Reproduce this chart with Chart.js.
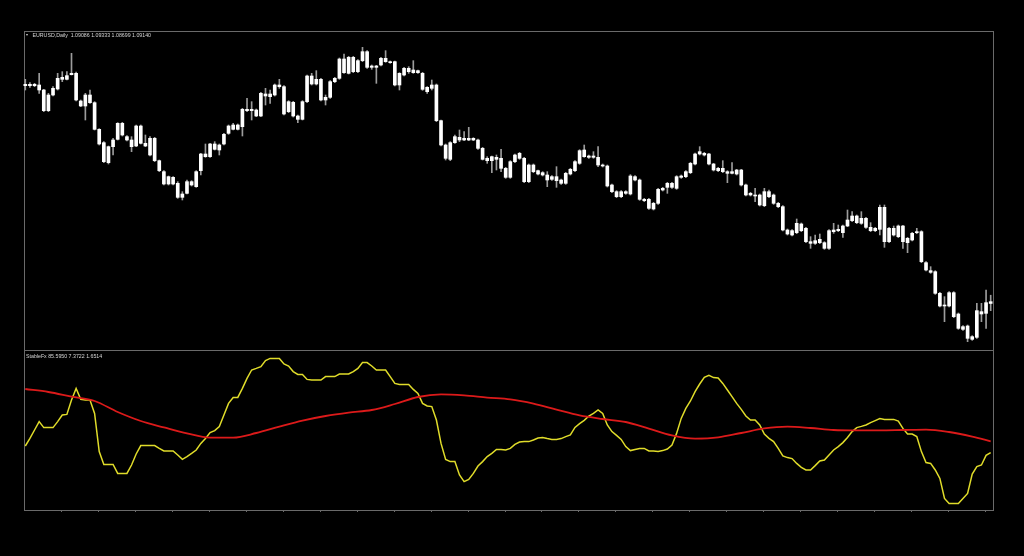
<!DOCTYPE html>
<html>
<head>
<meta charset="utf-8">
<script src="https://cdn.jsdelivr.net/npm/chart.js@4.4.0/dist/chart.umd.min.js"></script>
<style>
  html, body { margin: 0; padding: 0; background: #000; }
  #wrap { position: relative; width: 1024px; height: 556px; background: #000; overflow: hidden; }
  .frame { position: absolute; left: 24px; top: 31px; width: 970px; height: 480px; border: 1px solid #6a6a6a; box-sizing: border-box; }
  .sep { position: absolute; left: 24px; top: 350px; width: 970px; height: 1px; background: #6a6a6a; }
  canvas { position: absolute; }
  #priceChart { left: 23px; top: 32px; }
  #fxChart { left: 23px; top: 351px; }
  .lbl { position: absolute; font-family: "Liberation Sans", Arial, sans-serif; font-size: 5.25px; line-height: 6px; color: #d6d6d6; white-space: pre; }
  .tri { position: absolute; left: 26px; top: 34px; width: 0; height: 0; border-left: 1.5px solid transparent; border-right: 1.5px solid transparent; border-top: 2px solid #d6d6d6; }
</style>
</head>
<body>
<div id="wrap">
  <div class="frame"></div>
  <div class="sep"></div>
  <canvas id="priceChart" width="970" height="318"></canvas>
  <canvas id="fxChart" width="970" height="163"></canvas>
  <div class="tri"></div>
  <div class="lbl" style="left:32.5px; top:32px;">EURUSD,Daily  1.09086 1.09333 1.08699 1.09140</div>
  <div class="lbl" style="left:26px; top:352.5px;">StableFx 85.5950 7.3722 1.6514</div>
</div>
<script>
// EURUSD daily candles
const opens = [
  1.1566,1.1562,1.1566,1.1564,1.1549,1.1487,1.1534,1.1552,1.1581,1.1581,
  1.1595,1.1599,1.1516,1.1501,1.1534,1.1511,1.1431,1.1391,1.1331,1.1379,
  1.1401,1.1449,1.1409,1.1399,1.1381,1.1441,1.1389,1.1354,1.1404,1.1337,
  1.1304,1.1267,1.1287,1.1269,1.1227,1.1239,1.1274,1.1259,1.1307,1.1357,
  1.1349,1.1387,1.1369,1.1387,1.1419,1.1444,1.1431,1.1439,1.1491,1.1487,
  1.1489,1.1471,1.1537,1.1529,1.1534,1.1564,1.1559,1.1484,1.1512,1.1471,
  1.1461,1.1514,1.1591,1.1567,1.1581,1.1519,1.1527,1.1574,1.1584,1.1642,
  1.1599,1.1647,1.1604,1.1637,1.1664,1.1617,1.1621,1.1624,1.1644,1.1634,
  1.1634,1.1564,1.1594,1.1614,1.1601,1.1607,1.1599,1.1557,1.1554,1.1564,
  1.1457,1.1384,1.1341,1.1391,1.1407,1.1399,1.1404,1.1399,1.1399,1.1374,
  1.1344,1.1337,1.1347,1.1344,1.1314,1.1287,1.1334,1.1359,1.1344,1.1274,
  1.1324,1.1307,1.1301,1.1294,1.1281,1.1289,1.1279,1.1269,1.1297,1.1307,
  1.1329,1.1369,1.1351,1.1347,1.1347,1.1324,1.1321,1.1264,1.1244,1.1229,
  1.1244,1.1237,1.1289,1.1279,1.1221,1.1221,1.1192,1.1209,1.1249,1.1257,
  1.1269,1.1254,1.1287,1.1289,1.1301,1.1327,1.1357,1.1359,1.1357,1.1327,
  1.1314,1.1304,1.1304,1.1299,1.1297,1.1309,1.1264,1.1234,1.1234,1.1234,
  1.1202,1.1244,1.1234,1.1209,1.1199,1.1129,1.1114,1.1121,1.1147,1.1134,
  1.1094,1.1089,1.1101,1.1091,1.1074,1.1129,1.1127,1.1121,1.1141,1.1157,
  1.1171,1.1149,1.1164,1.1137,1.1127,1.1131,1.1197,1.1094,1.1134,1.1109,
  1.1141,1.1104,1.1099,1.1121,1.1124,1.1031,1.1007,1.1004,1.0939,1.0901,
  1.0901,1.0941,1.0877,1.0839,1.0841,1.0809,1.0807,1.0884,1.0879,1.09086
];
const highs = [
  1.1581,1.1571,1.1569,1.1599,1.1551,1.1539,1.1559,1.1599,1.1604,1.1604,
  1.1659,1.1603,1.1519,1.1539,1.1549,1.1514,1.1433,1.1394,1.1381,1.1404,
  1.1451,1.1452,1.1412,1.1409,1.1444,1.1444,1.1414,1.1409,1.1407,1.1339,
  1.1307,1.1291,1.1289,1.1274,1.1244,1.1279,1.1277,1.1307,1.1359,1.1387,
  1.1389,1.1394,1.1387,1.1419,1.1444,1.1449,1.1447,1.1494,1.1524,1.1514,
  1.1492,1.1542,1.1554,1.1549,1.1567,1.1581,1.1562,1.1517,1.1515,1.1474,
  1.1517,1.1594,1.1599,1.1607,1.1584,1.1534,1.1577,1.1587,1.1645,1.1657,
  1.1650,1.1650,1.1640,1.1677,1.1667,1.1624,1.1623,1.1647,1.1667,1.1636,
  1.1636,1.1601,1.1617,1.1619,1.1637,1.1609,1.1602,1.1559,1.1579,1.1567,
  1.1459,1.1387,1.1394,1.1414,1.1429,1.1424,1.1437,1.1406,1.1402,1.1377,
  1.1349,1.1351,1.1354,1.1371,1.1317,1.1337,1.1357,1.1362,1.1347,1.1327,
  1.1327,1.1309,1.1304,1.1304,1.1292,1.1319,1.1282,1.1302,1.1314,1.1337,
  1.1370,1.1384,1.1354,1.1364,1.1379,1.1327,1.1324,1.1267,1.1247,1.1247,
  1.1247,1.1295,1.1292,1.1282,1.1224,1.1224,1.1212,1.1254,1.1257,1.1272,
  1.1272,1.1292,1.1294,1.1307,1.1332,1.1360,1.1379,1.1362,1.1359,1.1329,
  1.1317,1.1337,1.1307,1.1331,1.1311,1.1311,1.1267,1.1242,1.1254,1.1237,
  1.1254,1.1249,1.1237,1.1212,1.1202,1.1132,1.1130,1.1162,1.1150,1.1137,
  1.1109,1.1114,1.1117,1.1094,1.1130,1.1149,1.1144,1.1144,1.1189,1.1184,
  1.1174,1.1184,1.1167,1.1151,1.1137,1.1204,1.1204,1.1137,1.1141,1.1144,
  1.1143,1.1107,1.1122,1.1134,1.1127,1.1034,1.1019,1.1007,1.0942,1.0929,
  1.0944,1.0944,1.0880,1.0842,1.0844,1.0812,1.0909,1.0909,1.0949,1.09333
];
const lows = [
  1.1549,1.1557,1.1559,1.1539,1.1484,1.1484,1.1531,1.1549,1.1574,1.1579,
  1.1594,1.1516,1.1499,1.1459,1.1509,1.1429,1.1384,1.1331,1.1327,1.1354,
  1.1399,1.1411,1.1396,1.1364,1.1379,1.1387,1.1379,1.1351,1.1334,1.1304,
  1.1264,1.1264,1.1264,1.1224,1.1219,1.1237,1.1261,1.1257,1.1294,1.1347,
  1.1347,1.1369,1.1354,1.1384,1.1416,1.1429,1.1429,1.1411,1.1484,1.1459,
  1.1469,1.1469,1.1504,1.1509,1.1531,1.1554,1.1474,1.1481,1.1468,1.1451,
  1.1459,1.1511,1.1564,1.1564,1.1516,1.1504,1.1524,1.1571,1.1581,1.1599,
  1.1597,1.1601,1.1601,1.1634,1.1614,1.1611,1.1569,1.1621,1.1632,1.1629,
  1.1561,1.1549,1.1591,1.1599,1.1599,1.1599,1.1548,1.1539,1.1549,1.1454,
  1.1381,1.1339,1.1337,1.1389,1.1394,1.1397,1.1397,1.1397,1.1371,1.1339,
  1.1329,1.1301,1.1309,1.1304,1.1284,1.1284,1.1331,1.1341,1.1271,1.1271,
  1.1301,1.1294,1.1291,1.1259,1.1278,1.1257,1.1266,1.1266,1.1294,1.1304,
  1.1326,1.1347,1.1344,1.1344,1.1319,1.1318,1.1258,1.1241,1.1226,1.1226,
  1.1236,1.1234,1.1276,1.1218,1.1214,1.1191,1.1189,1.1206,1.1246,1.1239,
  1.1254,1.1251,1.1284,1.1286,1.1298,1.1324,1.1354,1.1351,1.1324,1.1306,
  1.1304,1.1301,1.1271,1.1297,1.1294,1.1261,1.1231,1.1231,1.1214,1.1201,
  1.1199,1.1226,1.1206,1.1196,1.1126,1.1114,1.1111,1.1118,1.1124,1.1091,
  1.1074,1.1086,1.1088,1.1071,1.1071,1.1119,1.1124,1.1107,1.1139,1.1154,
  1.1148,1.1146,1.1134,1.1124,1.1124,1.1114,1.1077,1.1091,1.1111,1.1106,
  1.1074,1.1061,1.1096,1.1118,1.1031,1.1006,1.0999,1.0936,1.0898,1.0854,
  1.0898,1.0866,1.0831,1.0828,1.0794,1.0798,1.0804,1.0854,1.0834,1.0887
];
const closes = [
  1.1562,1.1566,1.1562,1.1549,1.1487,1.1534,1.1554,1.1584,1.1587,1.1592,
  1.1599,1.1519,1.1501,1.1534,1.1511,1.1431,1.1387,1.1334,1.1379,1.1399,
  1.1449,1.1414,1.1399,1.1379,1.1441,1.1389,1.1381,1.1404,1.1337,1.1307,
  1.1267,1.1289,1.1267,1.1227,1.1237,1.1274,1.1264,1.1304,1.1357,1.1349,
  1.1387,1.1371,1.1384,1.1416,1.1441,1.1431,1.1444,1.1491,1.1487,1.1491,
  1.1471,1.1539,1.1531,1.1537,1.1564,1.1559,1.1477,1.1514,1.1471,1.1461,
  1.1514,1.1591,1.1567,1.1581,1.1519,1.1527,1.1574,1.1584,1.1642,1.1601,
  1.1647,1.1604,1.1637,1.1664,1.1617,1.1621,1.1617,1.1644,1.1634,1.1631,
  1.1564,1.1599,1.1614,1.1604,1.1609,1.1601,1.1551,1.1544,1.1564,1.1457,
  1.1384,1.1344,1.1391,1.1409,1.1399,1.1404,1.1399,1.1404,1.1374,1.1341,
  1.1337,1.1349,1.1341,1.1314,1.1287,1.1334,1.1354,1.1344,1.1274,1.1324,
  1.1304,1.1297,1.1294,1.1279,1.1289,1.1277,1.1269,1.1299,1.1311,1.1334,
  1.1367,1.1349,1.1347,1.1351,1.1324,1.1321,1.1261,1.1244,1.1229,1.1244,
  1.1239,1.1291,1.1279,1.1221,1.1217,1.1194,1.1209,1.1251,1.1254,1.1269,
  1.1257,1.1289,1.1291,1.1304,1.1329,1.1357,1.1364,1.1354,1.1327,1.1309,
  1.1307,1.1314,1.1299,1.1304,1.1309,1.1264,1.1234,1.1239,1.1231,1.1204,
  1.1244,1.1229,1.1209,1.1199,1.1129,1.1117,1.1127,1.1149,1.1127,1.1094,
  1.1089,1.1097,1.1091,1.1074,1.1127,1.1124,1.1131,1.1141,1.1159,1.1171,
  1.1151,1.1164,1.1137,1.1127,1.1134,1.1197,1.1094,1.1134,1.1114,1.1141,
  1.1094,1.1091,1.1119,1.1124,1.1034,1.1009,1.1002,1.0939,1.0901,1.0904,
  1.0941,1.0869,1.0834,1.0831,1.0804,1.0801,1.0887,1.0877,1.0911,1.0914
];

// StableFx indicator: main line (yellow), one value per bar
const stableFx = [
  5,8.8,13,17.2,14.2,14.2,14.2,17.2,20.5,20.8,
  28,33.8,28.3,28,28,21.3,2.2,-4.2,-4.2,-4.2,
  -8.7,-8.7,-8.7,-4.5,1,5.2,5.2,5.2,5.2,3.8,
  2.5,2.5,2.5,0.5,-1.7,-0.3,1.3,3,6.3,8.8,
  11.7,12.7,14.7,20.5,26.3,29.2,29.3,33.8,38.8,43,
  43.8,44.7,47.7,48.8,48.8,48.8,46,45,42.2,40.8,
  40.8,38.3,38,38,38,39.7,39.7,39.7,41,41,
  41,42.2,43.8,46.7,46.7,45,43,43,43,39.7,
  36.3,35.8,35.8,35.8,33.3,31.3,26.3,25,24.7,18,
  6.3,-1.7,-2.8,-2.8,-9.5,-12.8,-11.7,-8.7,-5,-2.8,
  -0.3,1.3,3.3,3.3,3,3.8,5.8,7,7.2,7.2,
  8,9,9.2,8.7,8.3,8.3,8.7,9.7,10.5,14.3,
  16.2,17.8,20,21.3,23,21.3,15.5,12.2,10.3,8.3,
  4.7,2.7,3.3,3.8,3.8,2.5,2.5,2.2,2.7,3.5,
  5.5,11.3,18.8,23.8,27.5,32.2,36,39.3,40.3,39.2,
  39,36.3,33,29.7,26.3,23.3,20,18,18,15.5,
  11,8.8,7.2,3.8,0,-0.8,-1.3,-3.7,-5.7,-7,
  -7,-4.8,-2.5,-2,0.5,3,4.7,6.7,9.3,12.2,
  14.2,14.8,15.5,16.7,17.7,18.7,18.3,18.3,18.3,17.5,
  13.8,11,11,9.7,2.2,-3.3,-3.7,-7,-11.2,-21.2,
  -23.7,-23.7,-23.7,-21.2,-18.7,-9,-5.3,-4.5,0.3,1.6514
];

// StableFx signal line (red), read every 5 bars
const signalBars = [0,5,10,15,20,25,30,35,40,45,50,55,60,65,70,75,80,85,90,95,100,
  105,110,115,120,125,130,135,140,145,150,155,160,165,170,175,180,185,190,195,200,205,209];
const signalValues = [33.5,32,29.7,27.5,22,17.5,14.3,11.3,9.2,9.2,11.5,14.7,17.7,20,21.7,23,26,29.5,30.8,30.3,29.2,
  28.3,26.2,23.2,20.3,18.5,17,13.7,10.3,8.7,9.3,11.5,13.8,14.7,14,13,12.8,12.8,13,13.2,12,9.7,7.3722];

const categories = opens.map((_, i) => i);

const bodies = opens.map((o, i) => [o, closes[i]]);
const wicks = lows.map((l, i) => [l, highs[i]]);

Chart.defaults.font.family = 'Liberation Sans';

new Chart(document.getElementById('priceChart'), {
  type: 'bar',
  data: {
    labels: categories,
    datasets: [
      { data: bodies, backgroundColor: '#ffffff', borderWidth: 0, barThickness: 3, minBarLength: 1, grouped: false },
      { data: wicks, backgroundColor: '#9c9c9c', borderWidth: 0, barThickness: 1, grouped: false }
    ]
  },
  options: {
    responsive: false,
    animation: false,
    events: [],
    layout: { padding: 0 },
    plugins: { legend: { display: false }, tooltip: { enabled: false } },
    scales: {
      x: { display: false, offset: true },
      y: { display: false, min: 1.0769, max: 1.1723 }
    }
  }
});

// small time-axis marks under the lower panel
const timeMarks = {
  id: 'timeMarks',
  afterDraw(chart) {
    const { ctx, chartArea, scales } = chart;
    ctx.save();
    ctx.strokeStyle = '#6a6a6a';
    ctx.lineWidth = 1;
    for (let b = 7.75; b < categories.length; b += 8) {
      const px = Math.round(scales.x.getPixelForValue(b)) + 0.5;
      ctx.beginPath();
      ctx.moveTo(px, chartArea.bottom + 1);
      ctx.lineTo(px, chartArea.bottom + 3);
      ctx.stroke();
    }
    ctx.restore();
  }
};

new Chart(document.getElementById('fxChart'), {
  type: 'line',
  data: {
    labels: categories,
    datasets: [
      {
        data: signalBars.map((b, i) => ({ x: b, y: signalValues[i] })),
        borderColor: '#dc1a1a', borderWidth: 1.8, pointRadius: 0,
        cubicInterpolationMode: 'monotone', fill: false
      },
      {
        data: stableFx,
        borderColor: '#e0dc2a', borderWidth: 1.5, pointRadius: 0,
        tension: 0, fill: false
      }
    ]
  },
  options: {
    responsive: false,
    animation: false,
    events: [],
    layout: { padding: { left: 0, right: 0, top: 0, bottom: 5 } },
    plugins: { legend: { display: false }, tooltip: { enabled: false } },
    scales: {
      x: { display: false, offset: true },
      y: { display: false, min: -26.5, max: 52.5 }
    }
  },
  plugins: [timeMarks]
});
</script>
</body>
</html>
